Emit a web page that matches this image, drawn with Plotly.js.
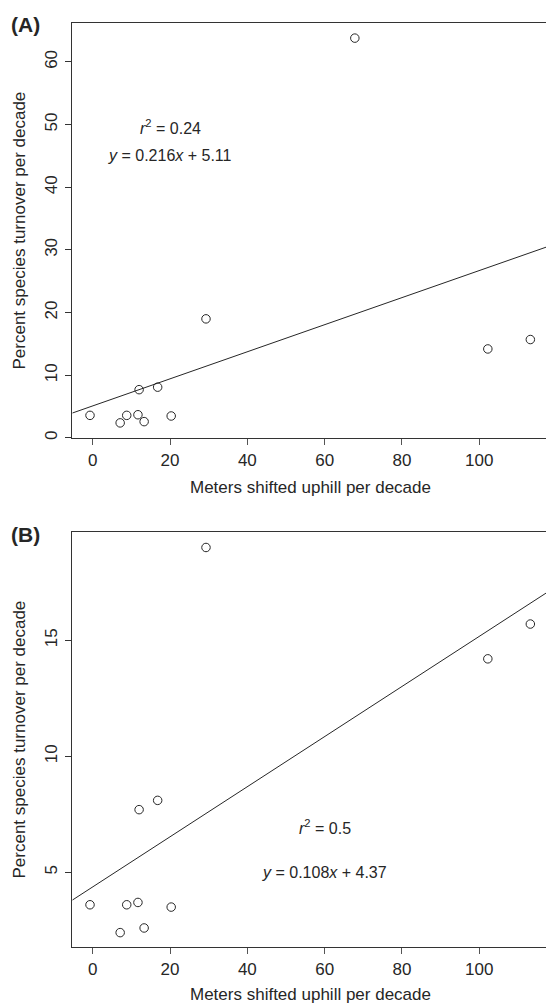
<!DOCTYPE html>
<html>
<head>
<meta charset="utf-8">
<script src="https://cdn.plot.ly/plotly-3.0.1.min.js"></script>
<style>html,body{margin:0;padding:0;background:#fff;}#chart{width:546px;height:1005px;}</style>
</head>
<body>
<div id="chart"></div>
<script>
// Data
const shiftA = [-0.7, 7.1, 8.8, 11.7, 12.0, 13.3, 16.8, 20.3, 29.3, 67.8, 102.2, 113.2];
const turnoverA = [3.6, 2.4, 3.6, 3.7, 7.7, 2.6, 8.1, 3.5, 19.0, 63.8, 14.2, 15.7];
const shiftB = [-0.7, 7.1, 8.8, 11.7, 12.0, 13.3, 16.8, 20.3, 29.3, 102.2, 113.2];
const turnoverB = [3.6, 2.4, 3.6, 3.7, 7.7, 2.6, 8.1, 3.5, 19.0, 14.2, 15.7];
const fitA = {slope: 0.216, intercept: 5.11, r2: "0.24"};
const fitB = {slope: 0.108, intercept: 4.37, r2: "0.5"};
const xTicks = [0, 20, 40, 60, 80, 100];
const yTicksA = [0, 10, 20, 30, 40, 50, 60];
const yTicksB = [5, 10, 15];
const xTitle = "Meters shifted uphill per decade";
const yTitle = "Percent species turnover per decade";

const W = 546, H = 1005;
const xRange = [-5.28, 117.25];
const yRangeA = [-0.06, 66.26];
const yRangeB = [1.767, 19.68];
const ink = "#262626";
const font = "Liberation Sans, Arial, Helvetica, sans-serif";

function fitLine(f) {
  return xRange.map(x => f.slope * x + f.intercept);
}

const markerStyle = {symbol: "circle-open", size: 8.5, color: ink, line: {width: 1, color: ink}};

const traces = [
  {x: shiftA, y: turnoverA, type: "scatter", mode: "markers", marker: markerStyle, xaxis: "x", yaxis: "y", hoverinfo: "x+y"},
  {x: xRange, y: fitLine(fitA), type: "scatter", mode: "lines", line: {color: ink, width: 1}, xaxis: "x", yaxis: "y"},
  {x: shiftB, y: turnoverB, type: "scatter", mode: "markers", marker: markerStyle, xaxis: "x2", yaxis: "y2", hoverinfo: "x+y"},
  {x: xRange, y: fitLine(fitB), type: "scatter", mode: "lines", line: {color: ink, width: 1}, xaxis: "x2", yaxis: "y2"}
];

const xDom = [72.3 / W, 1];
const domA = [1 - 438.3 / H, 1 - 22.7 / H];
const domB = [1 - 947.3 / H, 1 - 531.7 / H];

function xAxis(anchor) {
  return {
    domain: xDom, range: xRange, anchor: anchor,
    tickmode: "array", tickvals: xTicks, ticktext: xTicks.map(String),
    ticks: "outside", ticklen: 6, tickcolor: "#555", tickwidth: 1,
    showline: true, linecolor: "#333", linewidth: 1, mirror: true,
    showgrid: false, zeroline: false,
    tickfont: {family: font, size: 17, color: ink}
  };
}
function yAxis(anchor, dom, rng, ticks) {
  return {
    domain: dom, range: rng, anchor: anchor,
    tickmode: "array", tickvals: ticks, ticktext: ticks.map(String),
    ticks: "outside", ticklen: 6, tickcolor: "#333", tickwidth: 1,
    tickangle: -90, ticklabelstandoff: 2,
    showline: true, linecolor: "#333", linewidth: 1, mirror: false,
    showgrid: false, zeroline: false,
    tickfont: {family: font, size: 17, color: ink}
  };
}

const px = p => p / W;
const py = p => 1 - p / H;

function ann(o) {
  return Object.assign({showarrow: false, xanchor: "center", yanchor: "middle"}, o);
}

const annotations = [
  ann({text: "<b>(A)</b>", xref: "paper", yref: "paper", x: px(25), y: py(24), font: {family: font, size: 21, color: ink}}),
  ann({text: "<b>(B)</b>", xref: "paper", yref: "paper", x: px(25), y: py(534.5), font: {family: font, size: 21, color: ink}}),
  ann({text: yTitle, xref: "paper", yref: "paper", x: px(19), y: py(230.5), textangle: -90, font: {family: font, size: 17, color: ink}}),
  ann({text: yTitle, xref: "paper", yref: "paper", x: px(19), y: py(739.5), textangle: -90, font: {family: font, size: 17, color: ink}}),
  ann({text: xTitle, xref: "paper", yref: "paper", x: px(310), y: py(487), font: {family: font, size: 17, color: ink}}),
  ann({text: xTitle, xref: "paper", yref: "paper", x: px(310), y: py(994), font: {family: font, size: 17, color: ink}}),
  ann({text: "<i>r</i><sup>2</sup> = " + fitA.r2, xref: "x", yref: "y", x: 20, y: 49.6, font: {family: font, size: 16, color: ink}}),
  ann({text: "<i>y</i> = " + fitA.slope + "<i>x</i> + " + fitA.intercept, xref: "x", yref: "y", x: 20, y: 45, font: {family: font, size: 16, color: ink}}),
  ann({text: "<i>r</i><sup>2</sup> = " + fitB.r2, xref: "x2", yref: "y2", x: 60, y: 6.95, font: {family: font, size: 16, color: ink}}),
  ann({text: "<i>y</i> = " + fitB.slope + "<i>x</i> + " + fitB.intercept, xref: "x2", yref: "y2", x: 60, y: 5.0, font: {family: font, size: 16, color: ink}})
];

const layout = {
  width: W, height: H,
  margin: {l: 0, r: 0, t: 0, b: 0, pad: 0},
  paper_bgcolor: "#fff", plot_bgcolor: "#fff",
  showlegend: false,
  font: {family: font, color: ink},
  xaxis: xAxis("y"),
  yaxis: yAxis("x", domA, yRangeA, yTicksA),
  xaxis2: xAxis("y2"),
  yaxis2: yAxis("x2", domB, yRangeB, yTicksB),
  annotations: annotations
};

Plotly.newPlot("chart", traces, layout, {displayModeBar: false, staticPlot: true});
</script>
</body>
</html>
